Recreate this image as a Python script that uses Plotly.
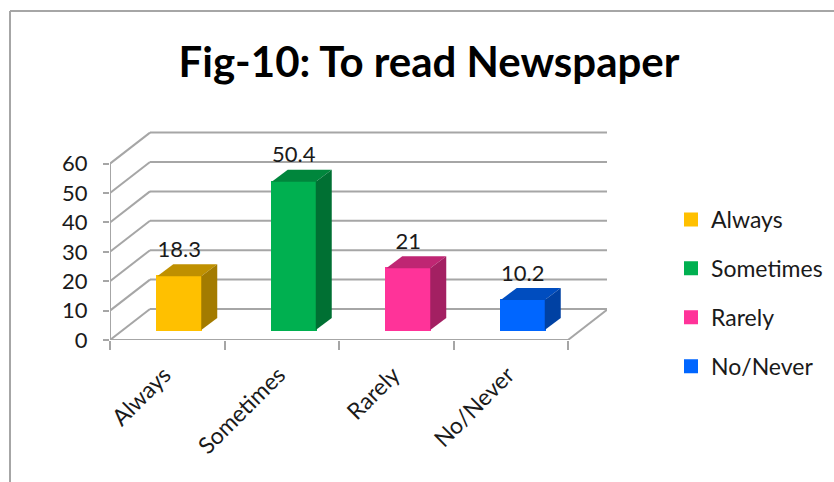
import plotly.graph_objects as go

# Survey responses
categories = ["Always", "Sometimes", "Rarely", "No/Never"]
values = [18.3, 50.4, 21, 10.2]
value_labels = ["18.3", "50.4", "21", "10.2"]
y_ticks = [0, 10, 20, 30, 40, 50, 60]

# Face colours for each bar
front_colors = ["#FFC000", "#00B050", "#FF3399", "#0066FF"]
top_colors = ["#BF9000", "#00863C", "#BF2673", "#004DBF"]
side_colors = ["#A37B00", "#007033", "#A32062", "#0041A3"]

FONT = "Lato"
TEXT = "#1a1a1a"
GRID = "#a6a6a6"

# Pixel geometry of the oblique box, converted to axis units below
WIDTH, HEIGHT = 834, 482
LEFT, RIGHT_EDGE, BASE, TOP_EDGE = 110, 607, 340, 131
PX_X = 114.5
PX_Y = 2.94
x_lo = -0.5
x_hi = x_lo + (RIGHT_EDGE - LEFT) / PX_X
y_hi = (BASE - TOP_EDGE) / PX_Y

WALL_DX = 40 / PX_X
WALL_DY = 31 / PX_Y
BAR_SHIFT_X = 12 / PX_X
BAR_LIFT = 10 / PX_Y
BAR_W = 44 / PX_X
BAR_DX = 16 / PX_X
BAR_DY = 12 / PX_Y
LABEL_GAP = 25 / PX_Y
TICK_LABEL_SHIFT = 3 / PX_X

x_end = x_lo + len(categories)
boundaries = [x_lo + i for i in range(len(categories) + 1)]
centres = list(range(len(categories)))


def line_shape(x0, y0, x1, y1, width=2):
    return dict(type="line", xref="x", yref="y", x0=x0, y0=y0, x1=x1, y1=y1,
                layer="below", line=dict(color=GRID, width=width))


shapes = []
for tick in y_ticks:
    # back wall rule and the matching diagonal on the side wall
    shapes.append(line_shape(x_lo + WALL_DX, tick + WALL_DY, x_end + WALL_DX, tick + WALL_DY))
    shapes.append(line_shape(x_lo, tick, x_lo + WALL_DX, tick + WALL_DY))
shapes.append(line_shape(x_end, 0, x_end + WALL_DX, WALL_DY))
shapes.append(line_shape(x_lo, 0, x_lo, y_ticks[-1]))
shapes.append(line_shape(x_lo, 0, x_end, 0))

# Frame around the chart area, open on the right and bottom
plot_w = RIGHT_EDGE - LEFT
plot_h = BASE - TOP_EDGE
frame_x = (10 - LEFT) / plot_w
frame_y = (BASE - 11) / plot_h
for x0, y0, x1, y1 in [(frame_x, frame_y, (WIDTH - LEFT) / plot_w, frame_y),
                       (frame_x, frame_y, frame_x, (BASE - HEIGHT) / plot_h)]:
    shapes.append(dict(type="line", xref="paper", yref="paper", x0=x0, y0=y0, x1=x1, y1=y1,
                       line=dict(color="#a6a6a6", width=2)))

fig = go.Figure()

# Front faces; the outline also enlarges the legend swatch
for i, cat in enumerate(categories):
    fig.add_trace(go.Bar(
        x=[centres[i] + BAR_SHIFT_X], y=[values[i]], base=BAR_LIFT, width=BAR_W,
        name=cat, legendgroup=cat,
        marker=dict(color=front_colors[i], line=dict(width=2, color=front_colors[i])),
        hoverinfo="skip",
    ))

# Top and side faces of each box
for i, cat in enumerate(categories):
    xl = centres[i] + BAR_SHIFT_X - BAR_W / 2
    xr = centres[i] + BAR_SHIFT_X + BAR_W / 2
    bottom = BAR_LIFT
    top = BAR_LIFT + values[i]
    fig.add_trace(go.Scatter(
        x=[xl, xr, xr + BAR_DX, xl + BAR_DX, xl],
        y=[top, top, top + BAR_DY, top + BAR_DY, top],
        mode="lines", fill="toself", fillcolor=top_colors[i], line=dict(width=0),
        showlegend=False, hoverinfo="skip",
    ))
    fig.add_trace(go.Scatter(
        x=[xr, xr + BAR_DX, xr + BAR_DX, xr, xr],
        y=[bottom, bottom + BAR_DY, top + BAR_DY, top, bottom],
        mode="lines", fill="toself", fillcolor=side_colors[i], line=dict(width=0),
        showlegend=False, hoverinfo="skip",
    ))

# Value labels above the boxes
fig.add_trace(go.Scatter(
    x=[c + BAR_SHIFT_X for c in centres],
    y=[v + BAR_LIFT + LABEL_GAP for v in values],
    mode="text", text=value_labels, textposition="middle center",
    textfont=dict(family=FONT, size=22, color=TEXT),
    showlegend=False, hoverinfo="skip",
))

fig.update_layout(
    width=WIDTH, height=HEIGHT,
    margin=dict(l=LEFT, r=WIDTH - RIGHT_EDGE, t=TOP_EDGE, b=HEIGHT - BASE, pad=0),
    paper_bgcolor="white", plot_bgcolor="white",
    font=dict(family=FONT, size=22, color=TEXT),
    title=dict(text="<b>Fig-10: To read Newspaper</b>", x=429 / WIDTH, xanchor="center",
               y=1 - 62 / HEIGHT, yanchor="middle",
               font=dict(family=FONT, size=42, color="#000000")),
    bargap=0,
    shapes=shapes,
    showlegend=True,
    legend=dict(x=671 / WIDTH, xref="container", y=1 - 198 / HEIGHT, yref="container",
                xanchor="left", yanchor="top", tracegroupgap=16,
                font=dict(family=FONT, size=23, color=TEXT),
                bgcolor="rgba(0,0,0,0)", itemclick=False, itemdoubleclick=False),
    xaxis=dict(range=[x_lo, x_hi], tickmode="array",
               tickvals=[c - TICK_LABEL_SHIFT for c in centres], ticktext=categories,
               tickangle=-45, ticks="", showgrid=False, zeroline=False, showline=False,
               ticklabelstandoff=16, tickfont=dict(family=FONT, size=23, color=TEXT),
               minor=dict(tickmode="array", tickvals=boundaries, ticks="outside",
                          ticklen=9, tickwidth=2, tickcolor=GRID, showgrid=False)),
    yaxis=dict(range=[0, y_hi], tickmode="array", tickvals=y_ticks,
               ticks="outside", ticklen=6, tickwidth=2, tickcolor=GRID,
               showgrid=False, zeroline=False, showline=False, ticklabelstandoff=11,
               tickfont=dict(family=FONT, size=22, color=TEXT)),
)

fig.write_html("out.html", config=dict(displayModeBar=False))
